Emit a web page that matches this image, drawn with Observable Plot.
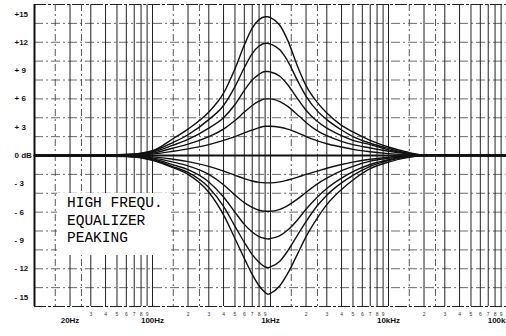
<!DOCTYPE html>
<html><head><meta charset="utf-8">
<script src="https://cdn.jsdelivr.net/npm/d3@7"></script>
<script src="https://cdn.jsdelivr.net/npm/@observablehq/plot@0.6"></script>
<style>
html,body{margin:0;padding:0;background:#fff;}
#wrap{position:relative;width:506px;height:336px;overflow:hidden;background:#fff;}
#note{position:absolute;left:57px;top:193px;width:114px;height:62px;background:#fff;
  font-family:"Liberation Mono","DejaVu Sans Mono",monospace;font-size:14.5px;line-height:17.5px;
  color:#000;white-space:pre;box-sizing:border-box;padding:2.4px 0 0 10px;}
</style></head>
<body><div id="wrap"></div>
<script>
// Frequencies (Hz) at which the curves were read
const freqs = [10, 60, 100, 150, 200, 300, 400, 500, 600, 700, 800, 900, 950, 1000, 1200, 1400, 1700, 2000, 2500, 3000, 4000, 5000, 7000, 10000, 14000, 20000, 100000];
// Boost curves (dB)
const boost15 = [0, 0.1, 0.5, 1.8, 2.8, 4.6, 6.6, 9.2, 11.7, 13.5, 14.4, 14.7, 14.7, 14.6, 13.8, 12.2, 9.4, 7.4, 5.6, 4.5, 3.2, 2.5, 1.6, 0.9, 0.4, 0.05, 0];
const boost12 = [0, 0.1, 0.45, 1.4, 2.2, 3.8, 5.3, 7.3, 9.3, 10.8, 11.6, 11.9, 11.9, 11.8, 11.2, 10.0, 7.9, 6.3, 4.7, 3.8, 2.7, 2.0, 1.3, 0.75, 0.3, 0.05, 0];
const boost9  = [0, 0.08, 0.35, 1.1, 1.7, 2.9, 4.0, 5.4, 6.9, 8.0, 8.6, 8.9, 8.9, 8.85, 8.4, 7.5, 6.0, 4.8, 3.6, 2.9, 2.1, 1.6, 1.15, 0.6, 0.25, 0.03, 0];
const boost6  = [0, 0.05, 0.25, 0.8, 1.2, 2.0, 2.8, 3.7, 4.6, 5.3, 5.75, 6.0, 6.0, 6.0, 5.7, 5.2, 4.3, 3.5, 2.6, 2.1, 1.5, 1.15, 0.8, 0.45, 0.2, 0.03, 0];
const boost3  = [0, 0.03, 0.15, 0.45, 0.7, 1.15, 1.6, 2.0, 2.4, 2.7, 2.95, 3.1, 3.1, 3.1, 3.0, 2.8, 2.4, 2.0, 1.55, 1.25, 0.9, 0.65, 0.4, 0.2, 0.08, 0, 0];
// Cut curves (dB)
const cut3  = [0, -0.03, -0.15, -0.4, -0.65, -1.15, -1.65, -2.1, -2.45, -2.7, -2.85, -2.9, -2.9, -2.9, -2.8, -2.6, -2.3, -2.0, -1.65, -1.35, -0.95, -0.7, -0.4, -0.18, -0.06, 0, 0];
const cut6  = [0, -0.05, -0.25, -0.7, -1.1, -2.0, -3.1, -4.2, -5.0, -5.5, -5.8, -5.9, -5.9, -5.9, -5.7, -5.3, -4.6, -3.9, -3.0, -2.4, -1.6, -1.15, -0.6, -0.3, -0.1, 0, 0];
const cut9  = [0, -0.06, -0.35, -1.0, -1.5, -2.8, -4.4, -6.0, -7.3, -8.1, -8.6, -8.8, -8.85, -8.8, -8.5, -7.9, -6.8, -5.7, -4.4, -3.5, -2.4, -1.7, -0.95, -0.45, -0.15, 0, 0];
const cut12 = [0, -0.08, -0.45, -1.2, -1.8, -3.4, -5.4, -7.5, -9.2, -10.5, -11.3, -11.8, -11.9, -11.8, -11.2, -10.1, -8.4, -7.0, -5.3, -4.2, -2.9, -2.1, -1.15, -0.55, -0.2, 0, 0];
const cut15 = [0, -0.1, -0.5, -1.3, -2.0, -3.9, -6.3, -8.8, -10.9, -12.6, -13.8, -14.5, -14.7, -14.6, -13.8, -12.5, -10.4, -8.6, -6.6, -5.2, -3.6, -2.6, -1.4, -0.7, -0.25, 0, 0];

// Axis ticks and labels
const xTicks = [20, 100, 1000, 10000];
const xTickLabels = ["20Hz", "100Hz", "1kHz", "10kHz"];
const xEdgeTick = [100000];
const xEdgeLabel = "100k";
const yTicks = [15, 12, 9, 6, 3, 0, -3, -6, -9, -12, -15];
const yTickLabels = ["+15", "+12", "+ 9", "+ 6", "+ 3", "0 dB", "- 3", "- 6", "- 9", "- 12", "- 15"];
// Grid
const decades = [10, 100, 1000, 10000];
const multipliers = [1, 2, 3, 4, 5, 6, 7, 8, 9];
const halfSteps = [1.5, 2.5];
const gridDb = [-14, -12, -10, -8, -6, -4, -2, 2, 4, 6, 8, 10, 12, 14];
const borderDb = [-16, 16];
const noteLines = ["HIGH FREQU.", "EQUALIZER", "PEAKING"];

const series = [
  ["+15", boost15], ["+12", boost12], ["+9", boost9], ["+6", boost6], ["+3", boost3],
  ["-3", cut3], ["-6", cut6], ["-9", cut9], ["-12", cut12], ["-15", cut15]
];
const rows = series.flatMap(([name, vals]) => freqs.map((f, i) => ({name, f, db: vals[i]})));

const solidGrid = decades.flatMap(d => multipliers.map(m => d * m)).filter(f => f > 10);
const dashGrid = decades.flatMap(d => halfSteps.map(h => d * h));
const minorTicks = decades.flatMap(d => multipliers.slice(1).map(m => ({f: d * m, m}))).filter(t => t.f !== 20);
const xLabelMap = new Map(xTicks.map((t, i) => [t, xTickLabels[i]]));
const yLabelMap = new Map(yTicks.map((t, i) => [t, yTickLabels[i]]));
const labelFont = "'Liberation Sans', Arial, sans-serif";

const chart = Plot.plot({
  width: 506,
  height: 336,
  marginLeft: 34,
  marginRight: 0,
  marginTop: 4,
  marginBottom: 30,
  style: {background: "#fff", fontFamily: labelFont},
  x: {type: "log", domain: [10, 100000], axis: null},
  y: {domain: [-16, 16], axis: null},
  marks: [
    Plot.ruleY(gridDb, {stroke: "#444", strokeWidth: 0.8, strokeDasharray: "9,3,2,3"}),
    Plot.ruleY(borderDb, {stroke: "#222", strokeWidth: 1, strokeDasharray: "12,2,3,2"}),
    Plot.ruleX(dashGrid, {stroke: "#444", strokeWidth: 0.9, strokeDasharray: "7,3,2,3"}),
    Plot.ruleX(solidGrid, {stroke: "#222", strokeWidth: 1}),
    Plot.ruleX([10], {stroke: "#111", strokeWidth: 2}),
    Plot.ruleY([0], {stroke: "#111", strokeWidth: 2}),
    Plot.line(rows, {x: "f", y: "db", z: "name", stroke: "#111", strokeWidth: 1.4, curve: "monotone-x"}),
    Plot.text(yTicks, {y: d => d, text: d => yLabelMap.get(d), frameAnchor: "left", textAnchor: "start",
      dx: -20, fontSize: 8, fontWeight: "bold", fill: "#111"}),
    Plot.text(xTicks, {x: d => d, text: d => xLabelMap.get(d), frameAnchor: "bottom", dy: 16,
      fontSize: 8, fontWeight: "bold", fill: "#111"}),
    Plot.text(xEdgeTick, {x: d => d, text: () => xEdgeLabel, frameAnchor: "bottom", dy: 16, textAnchor: "end", dx: -1,
      fontSize: 8, fontWeight: "bold", fill: "#111"}),
    Plot.text(minorTicks, {x: "f", text: d => String(d.m), frameAnchor: "bottom", dy: 9,
      fontSize: 5, fill: "#333"})
  ]
});

const wrap = document.getElementById("wrap");
wrap.appendChild(chart);
const note = document.createElement("div");
note.id = "note";
note.textContent = noteLines.join("\n");
wrap.appendChild(note);
</script>
</body></html>
